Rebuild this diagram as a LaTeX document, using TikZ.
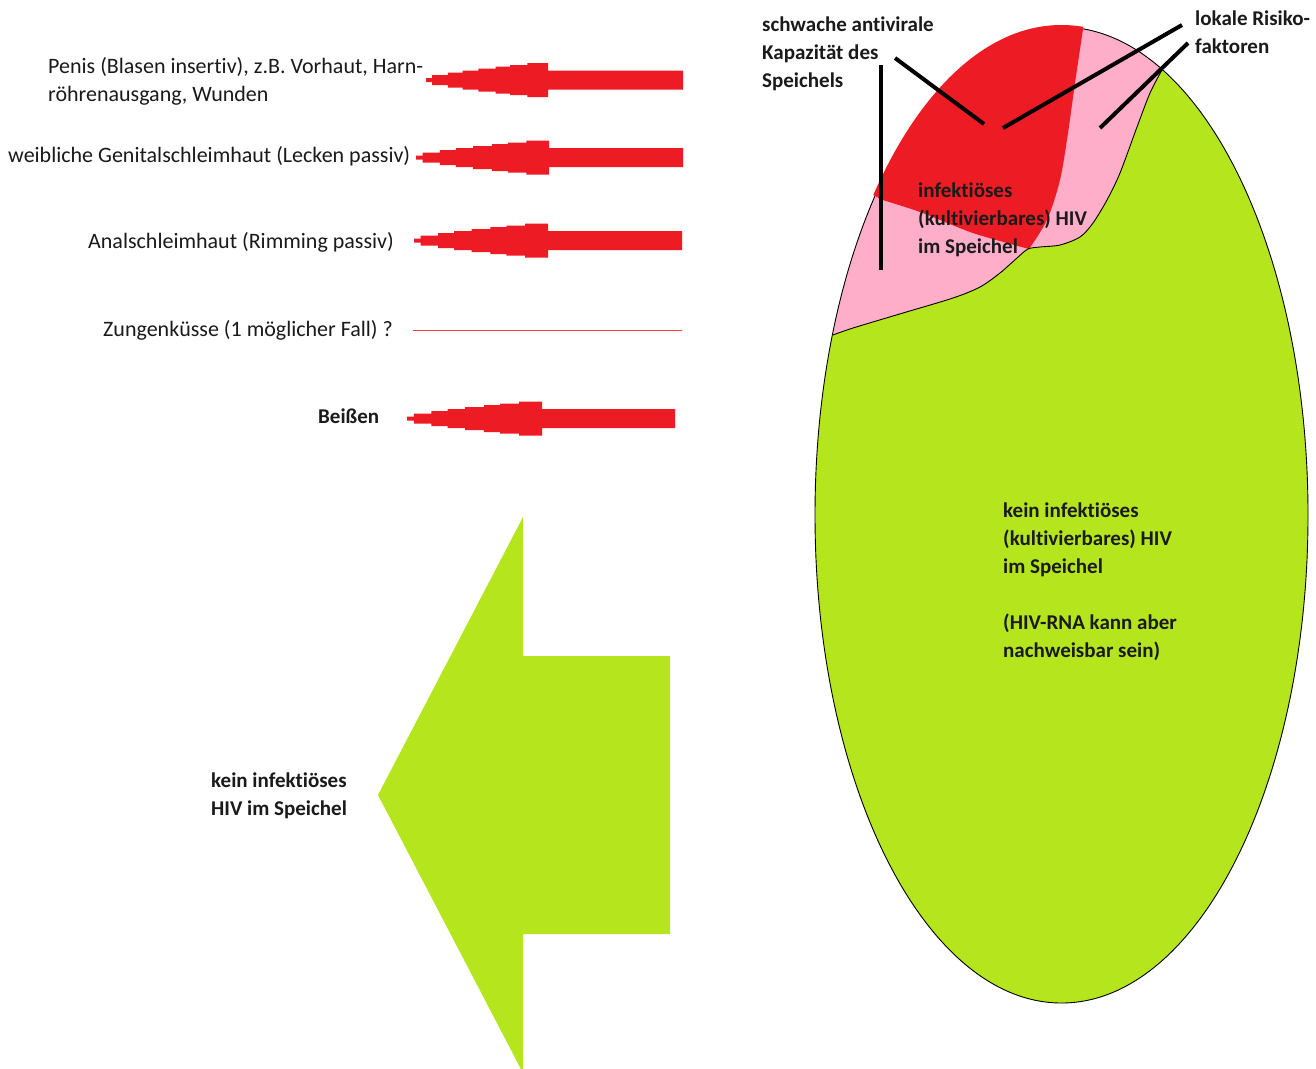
\documentclass[tikz,border=0pt]{standalone}
\usepackage{fontspec}
\setmainfont{Carlito}[Ligatures={NoCommon,NoDiscretionary}, RawFeature={-liga;-dlig;-clig}]
\definecolor{sred}{HTML}{ED1C24}
\definecolor{spink}{HTML}{FFAEC9}
\definecolor{slime}{HTML}{B5E61D}
\definecolor{txt}{HTML}{1A1A1A}

% left-aligned block of lines whose baseline is that of the first line
\newcommand{\txtlines}[1]{\begin{tabular}[t]{@{}l@{}}#1\end{tabular}}

% stepped red arrow: name, tip x, tip y, head length, tail x
\newcommand{\stairarrow}[5]{%
  \coordinate (#1) at (#2,#3);
  \begin{scope}[shift={(#1)}]
    \def\L{#4}\pgfmathsetmacro{\T}{#5-#2}
    \fill[sred]
      (0,-2) -- ({0.05*\L},-2) -- ({0.05*\L},-5) -- ({0.18*\L},-5) -- ({0.18*\L},-7.5)
      -- ({0.30*\L},-7.5) -- ({0.30*\L},-9.5) -- ({0.43*\L},-9.5) -- ({0.43*\L},-11.5)
      -- ({0.57*\L},-11.5) -- ({0.57*\L},-13.5) -- ({0.69*\L},-13.5) -- ({0.69*\L},-15)
      -- ({0.83*\L},-15) -- ({0.83*\L},-17) -- (\L,-17) -- (\L,-9.5) -- (\T,-9.5)
      -- (\T,9.5) -- (\L,9.5) -- (\L,17) -- ({0.83*\L},17) -- ({0.83*\L},15)
      -- ({0.69*\L},15) -- ({0.69*\L},13.5) -- ({0.57*\L},13.5) -- ({0.57*\L},11.5)
      -- ({0.43*\L},11.5) -- ({0.43*\L},9.5) -- ({0.30*\L},9.5) -- ({0.30*\L},7.5)
      -- ({0.18*\L},7.5) -- ({0.18*\L},5) -- ({0.05*\L},5) -- ({0.05*\L},2) -- (0,2) -- cycle;
  \end{scope}}

\tikzset{
  lbl/.style={inner sep=0pt, anchor=base west, text=txt, font=\fontsize{22}{28}\selectfont},
  blbl/.style={lbl, font=\fontsize{21}{28}\selectfont\bfseries},
  pointer/.style={draw=black, line width=4pt},
  rim/.style={draw=black, line width=0.9pt}
}

\begin{document}
\begin{tikzpicture}[x=1pt, y=-1pt]
  \useasboundingbox (0,0) rectangle (1316,1068);
  \fill[white] (0,0) rectangle (1316,1068);

  % ---- saliva ellipse with its infectious cap ----
  \def\saliva{(1061.5,515) ellipse [x radius=246.5, y radius=488]}
  \fill[slime] \saliva;
  \begin{scope}
    \clip \saliva;
    \fill[spink] plot[smooth] coordinates {(818,340) (833,335) (853,328) (903,313) (953,298)
        (980,287) (1000,273) (1017,258) (1028,249) (1040,247) (1060,245) (1080,237)
        (1093,223) (1107,200) (1120,173) (1137,127) (1150,93) (1162,70) (1170,50)}
      -- (1250,0) -- (800,0) -- cycle;
  \end{scope}
  \draw[rim] \saliva;
  \begin{scope}
    \clip (1061.5,515) ellipse [x radius=248.5, y radius=490];
    \fill[sred] plot[smooth] coordinates {(850,189) (873,195) (883,200) (920,212) (970,232)
        (1007,243) (1029,249)}
      -- plot[smooth] coordinates {(1029,249) (1047,220) (1060,180) (1068,133) (1075,83)
        (1083,29) (1086,5)}
      -- (850,5) -- cycle;
  \end{scope}
  \draw[rim] plot[smooth] coordinates {(833,335) (853,328) (903,313) (953,298)
      (980,287) (1000,273) (1017,258) (1028,249) (1040,247) (1060,245) (1080,237)
      (1093,223) (1107,200) (1120,173) (1137,127) (1150,93) (1162,70)};

  % ---- labels on the right ----
  \node[blbl] (antiviral) at (762,31) {\txtlines{schwache antivirale\\Kapazität des\\Speichels}};
  \node[blbl] (risk) at (1195,25) {\txtlines{lokale Risiko-\\faktoren}};
  \node[blbl] (infectious) at (918,197) {\txtlines{infektiöses\\(kultivierbares) HIV\\im Speichel}};
  \node[blbl] (noninfectious) at (1003,517) {\txtlines{kein infektiöses\\(kultivierbares) HIV\\im Speichel\\ \\(HIV-RNA kann aber\\nachweisbar sein)}};

  % pointer lines from the labels into the cap
  \coordinate (pA1) at (881,65);   \coordinate (pA2) at (881,270);
  \coordinate (pB1) at (895,58);   \coordinate (pB2) at (984,124);
  \coordinate (pC1) at (1182,25);  \coordinate (pC2) at (1003,128);
  \coordinate (pD1) at (1188,43);  \coordinate (pD2) at (1100,128);
  \draw[pointer] (pA1) -- (pA2);
  \draw[pointer] (pB1) -- (pB2);
  \draw[pointer] (pC1) -- (pC2);
  \draw[pointer] (pD1) -- (pD2);

  % ---- transmission routes on the left ----
  \node[lbl] (penis) at (48,73) {\txtlines{Penis (Blasen insertiv), z.B. Vorhaut, Harn-\\röhrenausgang, Wunden}};
  \node[lbl] (genital) at (8,162) {weibliche Genitalschleimhaut (Lecken passiv)};
  \node[lbl] (anal) at (88,248) {Analschleimhaut (Rimming passiv)};
  \node[lbl] (kiss) at (103,336) {Zungenküsse (1 möglicher Fall) ?};
  \node[blbl] (bite) at (318,423) {Beißen};

  \stairarrow{tipPenis}{426}{80}{122}{683}
  \stairarrow{tipGenital}{416}{157.5}{133}{683}
  \stairarrow{tipAnal}{414}{240.5}{134}{682}
  \stairarrow{tipBite}{407}{418.5}{135}{675}
  \coordinate (kissTip) at (413,330.5);
  \coordinate (kissTail) at (682,330.5);
  \draw[sred!85, line width=1.6pt] (kissTail) -- (kissTip);

  % ---- large green arrow ----
  \fill[slime] (378,795) -- (523,517) -- (523,656) -- (670,656) -- (670,934)
    -- (523,934) -- (523,1073) -- cycle;
  \node[blbl] (nohiv) at (211,787) {\txtlines{kein infektiöses\\HIV im Speichel}};
\end{tikzpicture}
\end{document}
